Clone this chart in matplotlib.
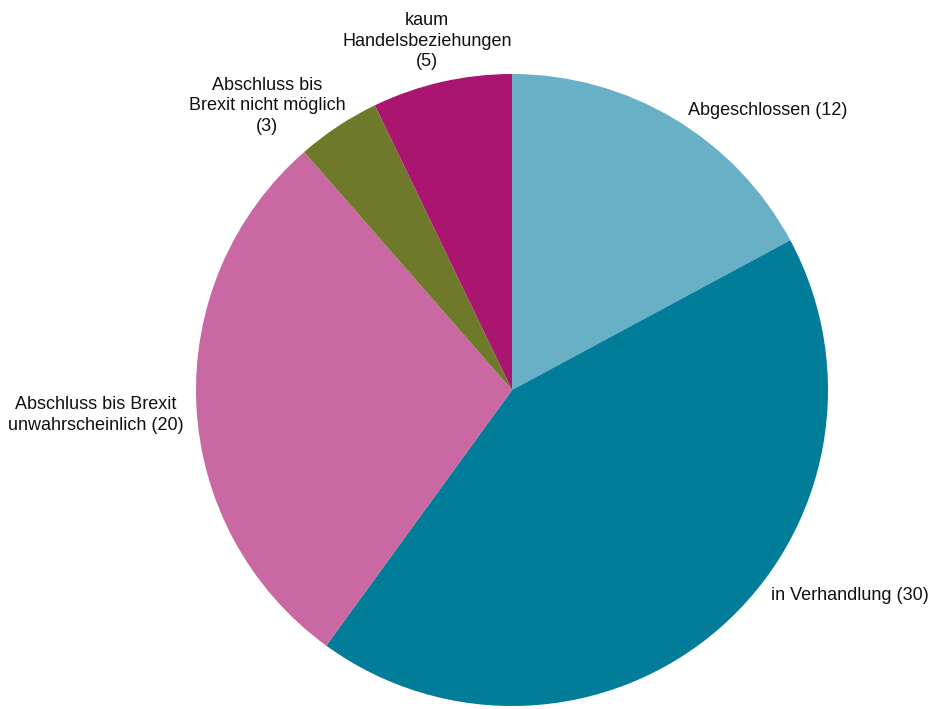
import matplotlib.pyplot as plt

# Status der Handelsabkommen (Anzahl)
kategorien = ["Abgeschlossen", "in Verhandlung", "Abschluss bis Brexit\nunwahrscheinlich",
              "Abschluss bis\nBrexit nicht möglich", "kaum\nHandelsbeziehungen"]
anzahl = [12, 30, 20, 3, 5]
farben = ["#67b0c5", "#017c99", "#c968a3", "#6e7a29", "#aa166f"]

# Beschriftungen: Position (in Radien), Ausrichtung, Trenner vor der Zahl
label_pos = [(0.557, 0.886), (0.82, -0.649), (-1.316, -0.079), (-0.775, 0.899), (-0.269, 1.104)]
label_ha = ["left", "left", "center", "center", "center"]
label_sep = [" ", " ", " ", "\n", "\n"]

plt.rcParams['font.family'] = ['Liberation Sans', 'DejaVu Sans']

fig = plt.figure(figsize=(9.32, 7.09), dpi=100)
ax = fig.add_axes([0, 0, 1, 1])
ax.pie(anzahl, colors=farben, startangle=90, counterclock=False, radius=1,
       wedgeprops=dict(linewidth=0))

for name, n, (x, y), ha, sep in zip(kategorien, anzahl, label_pos, label_ha, label_sep):
    ax.text(x, y, f"{name}{sep}({n})", ha=ha, va="center", ma="center",
            fontsize=13, color="#111111", linespacing=1.27)

ax.set_xlim(-512 / 316, 420 / 316)
ax.set_ylim(-319 / 316, 390 / 316)
ax.set_aspect("auto")
ax.axis("off")

fig.savefig("out.png", dpi=100)
